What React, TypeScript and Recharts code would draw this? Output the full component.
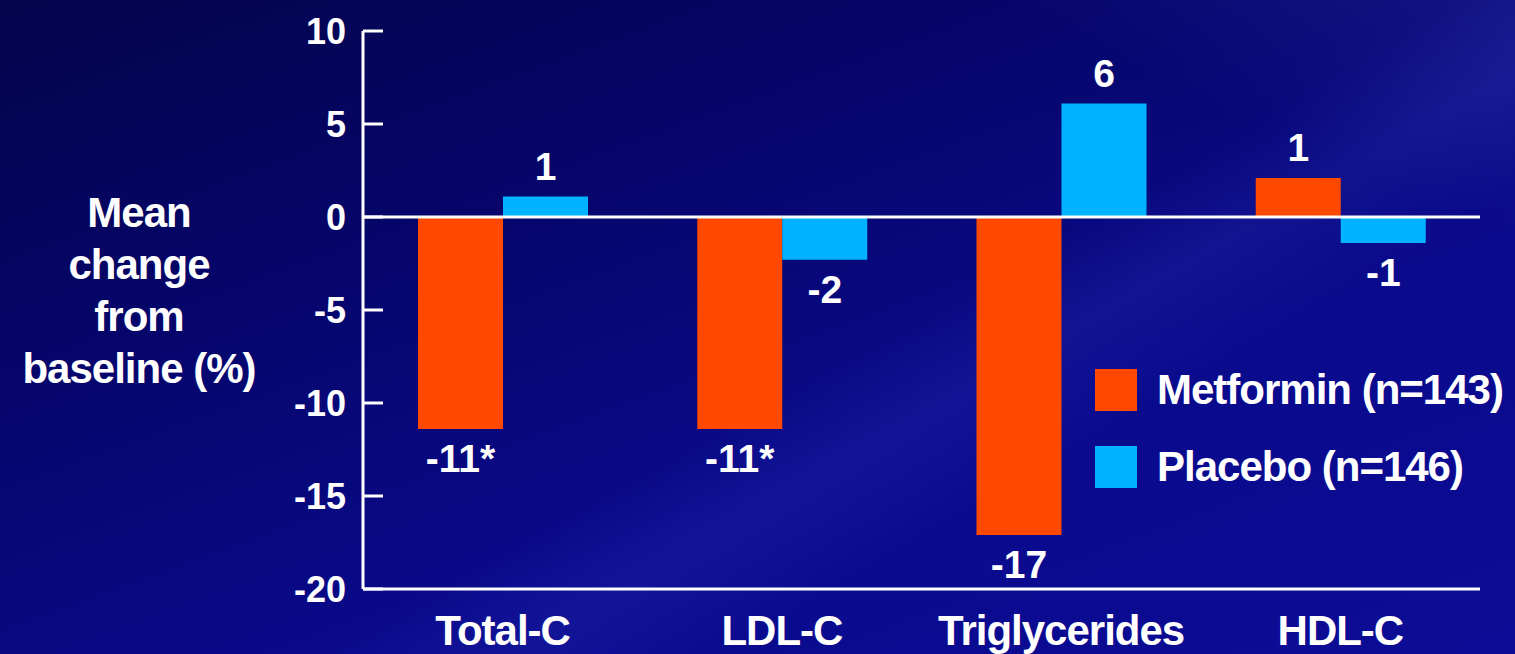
import React from "react";
import {
  BarChart,
  Bar,
  XAxis,
  YAxis,
  ReferenceLine,
  LabelList,
  Label,
} from "recharts";

const categories = ["Total-C", "LDL-C", "Triglycerides", "HDL-C"];
const metformin = [-11.4, -11.4, -17.1, 2.1];
const placebo = [1.1, -2.3, 6.1, -1.4];
const metforminLabels = ["-11*", "-11*", "-17", "1"];
const placeboLabels = ["1", "-2", "6", "-1"];
const yTicks = [10, 5, 0, -5, -10, -15, -20];
const yTitle = ["Mean", "change", "from", "baseline (%)"];
const seriesNames = ["Metformin (n=143)", "Placebo (n=146)"];

const ORANGE = "#ff4800";
const CYAN = "#00b2ff";
const FONT = "'Liberation Sans', Arial, Helvetica, sans-serif";

const data = categories.map((name, i) => ({
  name,
  metformin: metformin[i],
  placebo: placebo[i],
}));

const YTick = ({ x, y, payload }) => (
  <g>
    <line x1={x} x2={x + 20} y1={y} y2={y} stroke="#fff" strokeWidth={3} />
    <text
      x={x - 17}
      y={y}
      dy={13}
      textAnchor="end"
      fill="#fff"
      fontSize={36}
      fontWeight="bold"
      fontFamily={FONT}
    >
      {payload.value}
    </text>
  </g>
);

const XTick = ({ x, y, payload }) => (
  <text
    x={x}
    y={y}
    dy={56}
    textAnchor="middle"
    fill="#fff"
    fontSize={42}
    fontWeight="bold"
    fontFamily={FONT}
    letterSpacing={-1}
  >
    {payload.value}
  </text>
);

const makeLabel = (texts) => (props) => {
  const { x, y, width, height, value, index } = props;
  const top = Math.min(y, y + height);
  const bottom = Math.max(y, y + height);
  const cy = value >= 0 ? top - 31 : bottom + 29;
  return (
    <text
      x={x + width / 2}
      y={cy}
      dy={14}
      textAnchor="middle"
      fill="#fff"
      fontSize={39}
      fontWeight="bold"
      fontFamily={FONT}
    >
      {texts[index]}
    </text>
  );
};

const YTitle = () => (
  <text
    x={139}
    y={227}
    textAnchor="middle"
    fill="#fff"
    fontSize={42}
    fontWeight="bold"
    fontFamily={FONT}
    letterSpacing={-1}
  >
    {yTitle.map((line, i) => (
      <tspan key={line} x={139} dy={i === 0 ? 0 : 52}>
        {line}
      </tspan>
    ))}
  </text>
);

const LegendBox = () => (
  <div
    style={{
      position: "absolute",
      left: 1095,
      top: 369,
      fontFamily: FONT,
      color: "#fff",
    }}
  >
    {seriesNames.map((name, i) => (
      <div
        key={name}
        style={{ display: "flex", alignItems: "center", height: 42, marginBottom: i === 0 ? 35 : 0 }}
      >
        <div
          style={{
            width: 42,
            height: 42,
            background: i === 0 ? ORANGE : CYAN,
            marginRight: 20,
          }}
        />
        <span style={{ fontSize: 42, fontWeight: "bold", letterSpacing: -1, whiteSpace: "nowrap" }}>
          {name}
        </span>
      </div>
    ))}
  </div>
);

export default function App() {
  return (
    <div
      style={{
        position: "fixed",
        left: 0,
        top: 0,
        width: 1515,
        height: 654,
        overflow: "hidden",
        background:
          "linear-gradient(205deg, rgba(120,140,255,0.10) 0%, rgba(120,140,255,0) 18%), " +
          "linear-gradient(150deg, rgba(0,0,0,0) 55%, rgba(90,110,255,0.10) 62%, rgba(0,0,0,0) 70%), " +
          "linear-gradient(160deg, #04044c 0%, #06066e 35%, #0a0a8c 65%, #0c0c96 100%)",
      }}
    >
      <BarChart
        width={1515}
        height={654}
        data={data}
        margin={{ top: 31, right: 35, bottom: 0, left: 0 }}
        barGap={0}
      >
        <XAxis
          dataKey="name"
          height={65}
          axisLine={{ stroke: "#fff", strokeWidth: 3 }}
          tickLine={false}
          tickSize={0}
          tickMargin={0}
          tick={<XTick />}
          interval={0}
        />
        <YAxis
          width={363}
          domain={[-20, 10]}
          ticks={yTicks}
          type="number"
          allowDataOverflow
          axisLine={{ stroke: "#fff", strokeWidth: 3 }}
          tickLine={false}
          tickSize={0}
          tickMargin={0}
          tick={<YTick />}
        >
          <Label content={<YTitle />} />
        </YAxis>
        <Bar dataKey="metformin" fill={ORANGE} barSize={85} isAnimationActive={false}>
          <LabelList dataKey="metformin" content={makeLabel(metforminLabels)} />
        </Bar>
        <Bar dataKey="placebo" fill={CYAN} barSize={85} isAnimationActive={false}>
          <LabelList dataKey="placebo" content={makeLabel(placeboLabels)} />
        </Bar>
        <ReferenceLine y={0} stroke="#fff" strokeWidth={3} />
      </BarChart>
      <LegendBox />
    </div>
  );
}
